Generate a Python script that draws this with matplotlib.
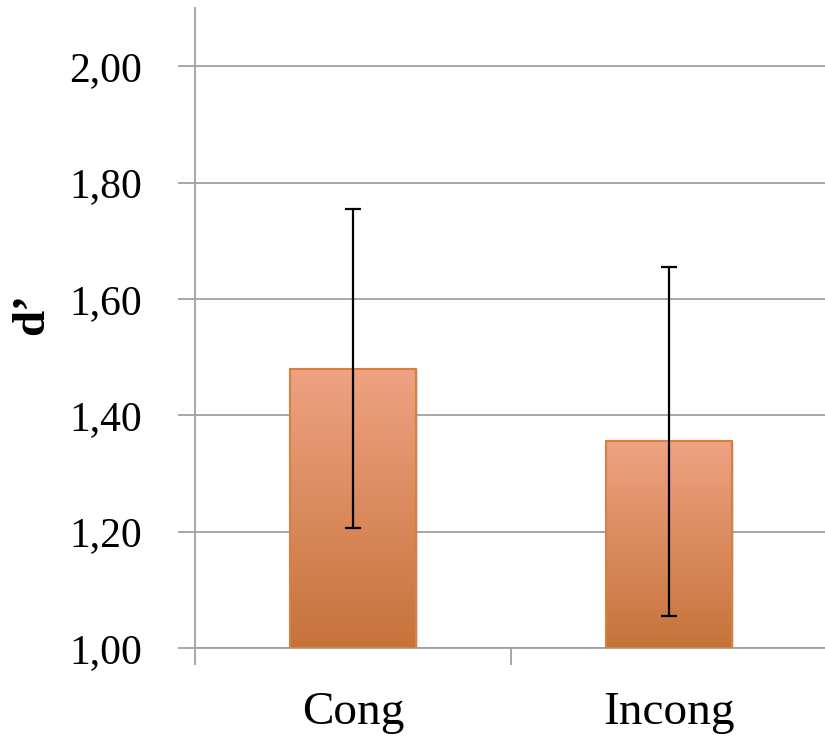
import numpy as np
import matplotlib.pyplot as plt
from matplotlib.colors import LinearSegmentedColormap

categories = ['Cong', 'Incong']
means = [1.48, 1.355]
errors = [0.274, 0.30]
yticks = [1.00, 1.20, 1.40, 1.60, 1.80, 2.00]

plt.rcParams['font.family'] = ['Liberation Serif', 'DejaVu Serif']

fig = plt.figure(figsize=(8.25, 7.41), dpi=100)
ax = fig.add_axes([195/825, 1 - 648/741, 632/825, 640/741])

x = np.arange(len(categories))
width = 0.40
base = 1.0
cmap = LinearSegmentedColormap.from_list('bar', ['#c6733a', '#efa282'])
grad = np.linspace(0, 1, 256).reshape(-1, 1)

bars = ax.bar(x, np.array(means) - base, width, bottom=base, color='none',
              edgecolor='#d9803f', linewidth=1.5, zorder=3)
for b in bars:
    x0, y0 = b.get_x(), b.get_y()
    w, h = b.get_width(), b.get_height()
    # soft shadow
    ax.add_patch(plt.Rectangle((x0 + 0.006, y0), w, h - 0.003, color='#000000',
                               alpha=0.12, zorder=2, linewidth=0))
    im = ax.imshow(grad, extent=[x0, x0 + w, y0, y0 + h], origin='lower',
                   cmap=cmap, aspect='auto', zorder=2.5)
    im.set_clip_path(b)

ax.errorbar(x, means, yerr=errors, fmt='none', ecolor='black', elinewidth=1.6,
            capsize=6, capthick=1.6, zorder=4)

ax.set_xlim(-0.5, 1.5)
ax.set_ylim(1.0, 2.1)
ax.set_yticks(yticks)
ax.set_yticklabels([f'{v:.2f}'.replace('.', ',') for v in yticks], fontsize=30)
ax.set_xticks([-0.5, 0.5])
ax.set_xticklabels([])
ax.set_xticks(x, minor=True)
ax.set_xticklabels(categories, minor=True, fontsize=34)
ax.tick_params(axis='x', which='minor', length=0, pad=31)
ax.tick_params(axis='x', which='major', length=12, color='#a0a0a0', width=1.3, direction='out')
ax.tick_params(axis='y', length=12, color='#a0a0a0', width=1.3, pad=26)
ax.yaxis.grid(True, color='#a0a0a0', linewidth=1.3, zorder=0)
ax.set_axisbelow(True)
for s in ['top', 'right']:
    ax.spines[s].set_visible(False)
for s in ['left', 'bottom']:
    ax.spines[s].set_color('#a0a0a0')
    ax.spines[s].set_linewidth(1.3)

fig.text(32/825, 1 - 314/741, 'd\u2019', rotation=90, fontsize=34, fontweight='bold',
         ha='center', va='center')

fig.savefig('out.png', dpi=100)
